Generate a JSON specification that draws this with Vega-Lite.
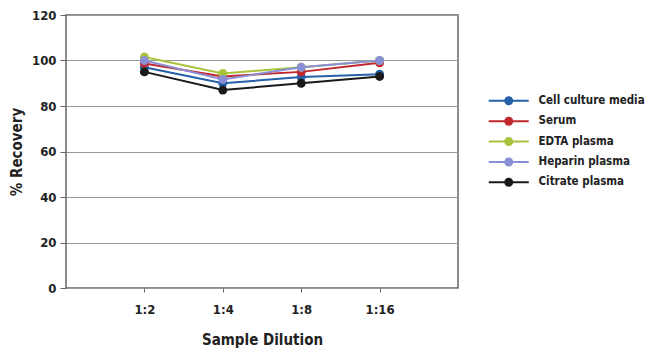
{
  "$schema": "https://vega.github.io/schema/vega-lite/v6.json",
  "width": 392,
  "height": 273,
  "autosize": "none",
  "padding": {"left": 66, "top": 15, "right": 192, "bottom": 70},
  "background": "white",
  "config": {
    "font": "DejaVu Sans Condensed",
    "view": {"stroke": "#666", "strokeWidth": 1.5},
    "axis": {"labelFont": "DejaVu Sans Condensed", "titleFont": "DejaVu Sans Condensed", "labelFontWeight": "bold", "titleFontWeight": "bold", "labelColor": "#222", "titleColor": "#222", "domainColor": "#666", "tickColor": "#666"},
    "legend": {"labelFont": "DejaVu Sans Condensed", "labelFontWeight": "bold", "labelFontSize": 11.5, "labelColor": "#222"}
  },
  "data": {"values": [
    {"dilution": "1:2", "sample": "Cell culture media", "recovery": 97},
    {"dilution": "1:4", "sample": "Cell culture media", "recovery": 90},
    {"dilution": "1:8", "sample": "Cell culture media", "recovery": 92.7},
    {"dilution": "1:16", "sample": "Cell culture media", "recovery": 94},
    {"dilution": "1:2", "sample": "Serum", "recovery": 98.7},
    {"dilution": "1:4", "sample": "Serum", "recovery": 93},
    {"dilution": "1:8", "sample": "Serum", "recovery": 95},
    {"dilution": "1:16", "sample": "Serum", "recovery": 99},
    {"dilution": "1:2", "sample": "EDTA plasma", "recovery": 101.5},
    {"dilution": "1:4", "sample": "EDTA plasma", "recovery": 94.3},
    {"dilution": "1:8", "sample": "EDTA plasma", "recovery": 97},
    {"dilution": "1:16", "sample": "EDTA plasma", "recovery": 100},
    {"dilution": "1:2", "sample": "Heparin plasma", "recovery": 100},
    {"dilution": "1:4", "sample": "Heparin plasma", "recovery": 91.7},
    {"dilution": "1:8", "sample": "Heparin plasma", "recovery": 97},
    {"dilution": "1:16", "sample": "Heparin plasma", "recovery": 100},
    {"dilution": "1:2", "sample": "Citrate plasma", "recovery": 95},
    {"dilution": "1:4", "sample": "Citrate plasma", "recovery": 87},
    {"dilution": "1:8", "sample": "Citrate plasma", "recovery": 90},
    {"dilution": "1:16", "sample": "Citrate plasma", "recovery": 93}
  ]},
  "encoding": {
    "x": {"field": "dilution", "type": "ordinal", "sort": ["1:2", "1:4", "1:8", "1:16"],
      "scale": {"type": "point", "padding": 1},
      "axis": {"title": "Sample Dilution", "labelAngle": 0, "labelFontSize": 13, "titleFontSize": 15, "tickSize": 4, "labelPadding": 11, "titlePadding": 16, "grid": false, "domain": false}},
    "y": {"field": "recovery", "type": "quantitative",
      "scale": {"domain": [0, 120]},
      "axis": {"title": "% Recovery", "values": [0, 20, 40, 60, 80, 100, 120], "labelFontSize": 13, "titleFontSize": 15, "tickSize": 6, "labelPadding": 4, "titlePadding": 7, "grid": true, "gridColor": "#999", "gridWidth": 1, "domain": false}},
    "color": {"field": "sample", "type": "nominal",
      "scale": {"domain": ["Cell culture media", "Serum", "EDTA plasma", "Heparin plasma", "Citrate plasma"], "range": ["#2560a8", "#c0282d", "#a8c43c", "#8a8fd6", "#1a1a1a"]},
      "legend": {"title": null, "orient": "none", "legendX": 437, "legendY": 80,
        "symbolType": "M-4,-0.2 H-0.85 V0.2 H-4 Z M0.85,-0.2 H4 V0.2 H0.85 Z M0.9,0 A0.9,0.9 0 1,1 -0.9,0 A0.9,0.9 0 1,1 0.9,0 Z",
        "symbolSize": 100, "symbolOpacity": 1, "symbolStrokeWidth": 0, "symbolFillColor": null, "rowPadding": 7.4, "labelOffset": 24}}
  },
  "layer": [
    {"mark": {"type": "line", "strokeWidth": 2}},
    {"mark": {"type": "point", "filled": true, "size": 80, "opacity": 1}}
  ]
}
